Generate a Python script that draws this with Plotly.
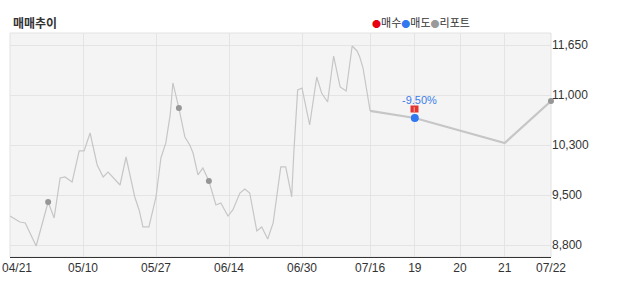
import plotly.graph_objects as go

# ---- data ----
# daily closing price (x = trading-session position)
daily_x = [0, 0.9, 1.8, 2.8, 4.8, 7.0, 8.1, 9.2, 10.1, 11.4, 12.7, 13.6, 14.7, 16.0, 17.1, 18.0,
           20.2, 21.3, 22.9, 23.7, 24.4, 25.5, 26.8, 27.7, 28.6, 29.4, 29.9, 31.0, 32.1, 33.0,
           33.6, 34.5, 35.4, 36.5, 37.8, 38.7, 40.0, 40.9, 42.2, 43.1, 44.0, 45.3, 46.2, 47.3,
           48.3, 49.7, 50.6, 51.4, 51.7, 52.1, 52.8, 53.6, 55.0, 56.3, 57.2, 58.3, 59.4, 60.6,
           61.7, 62.8, 63.7, 64.2, 64.8, 66.1]
daily_price = [9213, 9171, 9128, 9114, 8786, 9413, 9185, 9755, 9769, 9698, 10140, 10140, 10396,
               9940, 9769, 9840, 9655, 10054, 9484, 9299, 9057, 9057, 9484, 10040, 10254, 10653,
               11109, 10752, 10339, 10225, 10111, 9798, 9897, 9712, 9370, 9399, 9213, 9299, 9541,
               9598, 9541, 9000, 9057, 8886, 9114, 9912, 9912, 9612, 9484, 10125, 11009, 11037,
               10510, 11194, 10966, 10838, 11493, 11052, 10995, 11636, 11565, 11479, 11322, 10710]

# later summary points (07/16, 19, 21, 07/22)
later_x = [66.1, 74.3, 90.8, 99.3]
later_price = [10710, 10610, 10254, 10852]

# report markers (리포트)
report_x = [7.0, 31.0, 36.5, 99.3]
report_price = [9413, 10752, 9712, 10852]

# sell marker (매도)
sell_x = [74.3]
sell_price = [10610]
sell_label = "-9.50%"

x_tick_vals = [0, 13.4, 26.8, 40.2, 53.6, 66.1, 74.3, 82.6, 90.8, 99.3]
x_tick_text = ["04/21", "05/10", "05/27", "06/14", "06/30", "07/16", "19", "20", "21", "07/22"]
y_tick_vals = [8800, 9512.5, 10225, 10937.5, 11650]
y_tick_text = ["8,800", "9,500", "10,300", "11,000", "11,650"]

FONT = "Liberation Sans, Arial, Noto Sans CJK KR, sans-serif"
KFONT = "Noto Sans CJK KR, Liberation Sans, sans-serif"

fig = go.Figure()
fig.add_trace(go.Scatter(x=daily_x, y=daily_price, mode="lines",
                         line=dict(color="#c6c6c6", width=1.2), hoverinfo="skip"))
fig.add_trace(go.Scatter(x=later_x, y=later_price, mode="lines",
                         line=dict(color="#c6c6c6", width=2.2), hoverinfo="skip"))
fig.add_trace(go.Scatter(x=report_x, y=report_price, mode="markers", cliponaxis=False,
                         marker=dict(color="#969696", size=6), hoverinfo="skip"))
fig.add_trace(go.Scatter(x=sell_x, y=sell_price, mode="markers", cliponaxis=False,
                         marker=dict(color="#2f78ef", size=8), hoverinfo="skip"))

fig.add_annotation(x=sell_x[0], y=sell_price[0], text=sell_label, showarrow=False,
                   xshift=5, yshift=18, font=dict(family=FONT, size=11, color="#3a7de8"))
fig.add_annotation(x=sell_x[0], y=sell_price[0], text="<span style='color:white'>|</span>",
                   showarrow=False, yshift=9, bgcolor="#e3342f", width=7, height=6, borderpad=0,
                   font=dict(family=FONT, size=6, color="white"))

# first x label is kept inside the page (like the original), drawn as text at its tick
tick_labels_shown = [""] + x_tick_text[1:]
fig.add_annotation(x=x_tick_vals[0], y=0, xref="x", yref="paper", text=x_tick_text[0],
                   showarrow=False, xanchor="left", yanchor="top", xshift=-10, yshift=-2,
                   font=dict(family=FONT, size=12, color="#333333"))

# title and legend text
fig.add_annotation(xref="paper", yref="paper", x=0.002, y=1.049, xanchor="left", yanchor="middle",
                   text="<b>매매추이</b>", showarrow=False,
                   font=dict(family=KFONT, size=12, color="#333333"))
fig.add_annotation(xref="paper", yref="paper", x=0.854, y=1.049, xanchor="right", yanchor="middle",
                   text=("<span style='color:#e60012;font-size:9px'>●</span>매수"
                         "<span style='color:#2f78ef;font-size:9px'>●</span>매도"
                         "<span style='color:#9a9a9a;font-size:9px'>●</span>리포트"),
                   showarrow=False, font=dict(family=KFONT, size=11, color="#333333"))

# plot frame
fig.add_shape(type="rect", xref="x domain", yref="y domain", x0=0, x1=1, y0=0, y1=1,
              line=dict(color="#e2e2e2", width=1), layer="below")

fig.update_layout(
    width=620, height=290,
    margin=dict(l=10, r=69, t=33, b=33),
    paper_bgcolor="white", plot_bgcolor="#f4f4f4",
    showlegend=False,
    xaxis=dict(range=[0, 99.3], tickmode="array", tickvals=x_tick_vals, ticktext=tick_labels_shown,
               showgrid=True, gridcolor="#e4e4e4", gridwidth=1, zeroline=False,
               showline=True, linecolor="#333333", linewidth=1, ticks="",
               ticklabeloverflow="allow", automargin=False,
               tickfont=dict(family=FONT, size=12, color="#333333")),
    yaxis=dict(range=[8629, 11821], side="right", tickmode="array", tickvals=y_tick_vals,
               ticktext=y_tick_text, showgrid=True, gridcolor="#e4e4e4", gridwidth=1,
               zeroline=False, showline=False, ticks="", automargin=False,
               tickfont=dict(family=FONT, size=12, color="#333333")),
)

fig.write_html("out.html")
